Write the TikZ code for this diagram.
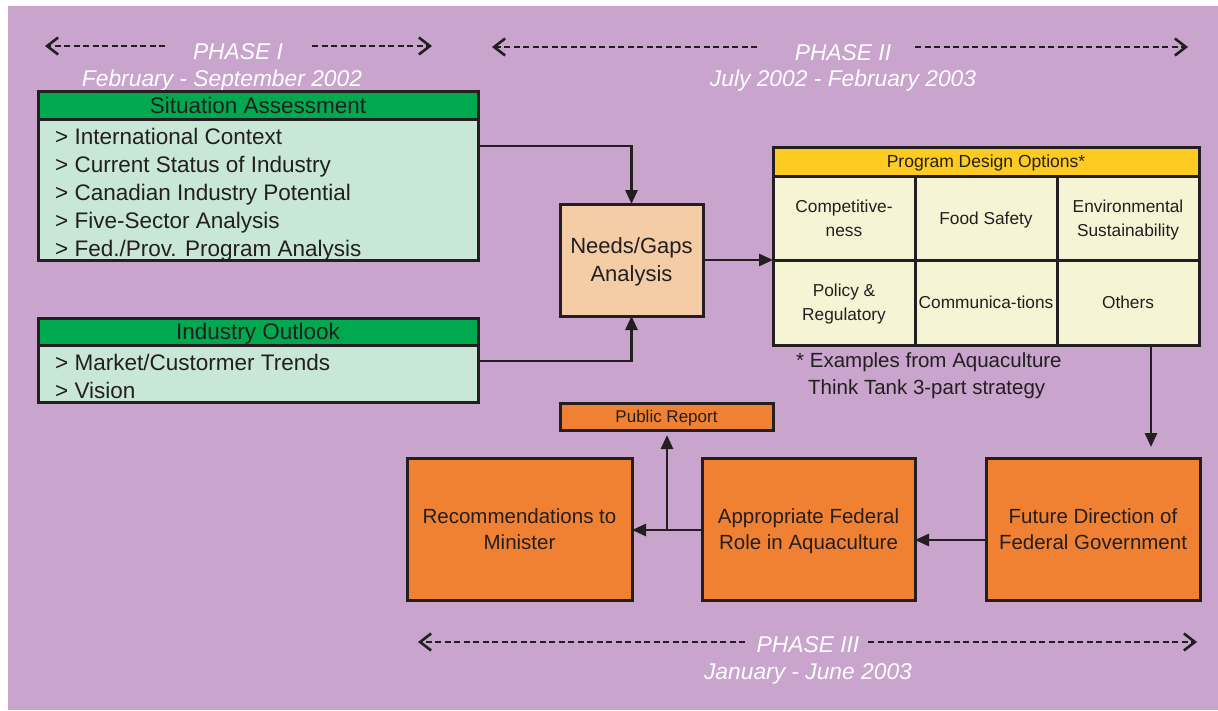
\documentclass[tikz,border=0pt]{standalone}
\usepackage{fontspec}
\setmainfont{Liberation Sans}
\usetikzlibrary{arrows.meta}

\definecolor{ink}{HTML}{231F20}
\definecolor{bgpurple}{HTML}{C9A4CD}
\definecolor{hgreen}{HTML}{00A94F}
\definecolor{lgreen}{HTML}{C9E7D6}
\definecolor{peach}{HTML}{F4CDA7}
\definecolor{orangebox}{HTML}{F08133}
\definecolor{yhead}{HTML}{FDCB22}
\definecolor{cream}{HTML}{F5F4D5}

\tikzset{
  box/.style={draw=ink, line width=3pt, inner sep=0pt, outer sep=0pt, anchor=north west,
              text=ink, align=center, text depth=0pt},
  hdr/.style={box, fill=hgreen, font=\fontsize{22.5}{26}\selectfont},
  listbody/.style={box, fill=lgreen},
  item/.style={anchor=base west, inner sep=0pt, text=ink, font=\fontsize{22.5}{26}\selectfont},
  cell/.style={box, fill=cream, font=\fontsize{17.3}{24}\selectfont},
  stepbox/.style={box, fill=orangebox, font=\fontsize{20.5}{26}\selectfont},
  conn/.style={draw=ink, line width=2.7pt, -{Triangle[length=14pt,width=12pt]}},
  phasearrow/.style={draw=ink, line width=2.6pt, dash pattern=on 6pt off 3.5pt,
              -{Straight Barb[length=11pt,width=17pt,line width=2.6pt]}},
  phasetext/.style={text=white, inner sep=0pt, font=\fontsize{22.8}{26}\selectfont\itshape},
}

\begin{document}
\begin{tikzpicture}[x=1pt, y=-1pt]
  % page and backdrop
  \useasboundingbox (0,0) rectangle (1218,710);
  \fill[white] (0,0) rectangle (1218,710);
  \fill[bgpurple] (8,6) rectangle (1218,710);

  % ---- phase banners ----
  \node[phasetext] (p1) at (238,52) {PHASE I};
  \node[phasetext] (p1d) at (222,81) {February - September 2002};
  \coordinate (p1a) at (165,46); \coordinate (p1b) at (45,46);
  \coordinate (p1c) at (312,46); \coordinate (p1e) at (432,46);
  \draw[phasearrow] (p1a) -- (p1b);
  \draw[phasearrow] (p1c) -- (p1e);

  \node[phasetext] (p2) at (843,53) {PHASE II};
  \node[phasetext] (p2d) at (843,81) {July 2002 - February 2003};
  \coordinate (p2a) at (757,47); \coordinate (p2b) at (492,47);
  \coordinate (p2c) at (915,47); \coordinate (p2e) at (1188,47);
  \draw[phasearrow] (p2a) -- (p2b);
  \draw[phasearrow] (p2c) -- (p2e);

  \node[phasetext] (p3) at (808,645) {PHASE III};
  \node[phasetext] (p3d) at (808,674) {January - June 2003};
  \coordinate (p3a) at (745,642); \coordinate (p3b) at (418,642);
  \coordinate (p3c) at (868,642); \coordinate (p3e) at (1197,642);
  \draw[phasearrow] (p3a) -- (p3b);
  \draw[phasearrow] (p3c) -- (p3e);

  % ---- situation assessment ----
  \node[listbody, minimum width=440pt, minimum height=141pt] (sa) at (38,119) {};
  \node[hdr, minimum width=440pt, minimum height=28pt] (sah) at (38,91) {Situation Assessment};
  \node[item] (sa1) at (55,144) {> International Context};
  \node[item] (sa2) at (55,172) {> Current Status of Industry};
  \node[item] (sa3) at (55,200) {> Canadian Industry Potential};
  \node[item] (sa4) at (55,228) {> Five-Sector Analysis};
  \node[item] (sa5) at (55,256) {> Fed./Prov. Program Analysis};

  % ---- industry outlook ----
  \node[listbody, minimum width=440pt, minimum height=57pt] (io) at (38,345) {};
  \node[hdr, minimum width=440pt, minimum height=27pt] (ioh) at (38,318) {Industry Outlook};
  \node[item] (io1) at (55,370) {> Market/Custormer Trends};
  \node[item] (io2) at (55,398) {> Vision};

  % ---- needs / gaps ----
  \node[box, fill=peach, minimum width=143pt, minimum height=112pt,
        font=\fontsize{22}{28}\selectfont] (needs) at (560,204) {Needs/Gaps\\Analysis};

  % ---- program design options grid ----
  \node[box, fill=yhead, minimum width=426pt, minimum height=29pt,
        font=\fontsize{17.5}{20}\selectfont] (pdo) at (773,147) {Program Design Options*};
  \node[cell, minimum width=142pt, minimum height=84pt] (c11) at (773,176) {Competitive-\\ness};
  \node[cell, minimum width=142pt, minimum height=84pt] (c12) at (915,176) {Food Safety};
  \node[cell, minimum width=142pt, minimum height=84pt] (c13) at (1057,176) {Environmental\\Sustainability};
  \node[cell, minimum width=142pt, minimum height=85pt] (c21) at (773,260) {Policy \&\\Regulatory};
  \node[cell, minimum width=142pt, minimum height=85pt] (c22) at (915,260) {Communica-tions};
  \node[cell, minimum width=142pt, minimum height=85pt] (c23) at (1057,260) {Others};
  \node[anchor=north west, inner sep=0pt, text=ink, align=left,
        font=\fontsize{20.5}{27}\selectfont] (note) at (796,352)
        {* Examples from Aquaculture\\\hspace*{12pt}Think Tank 3-part strategy};

  % ---- phase III boxes ----
  \node[stepbox, minimum width=213pt, minimum height=27pt,
        font=\fontsize{17}{20}\selectfont] (pub) at (560,403) {Public Report};
  \node[stepbox, minimum width=225pt, minimum height=142pt] (rec) at (407,458) {Recommendations to\\Minister};
  \node[stepbox, minimum width=213pt, minimum height=142pt] (app) at (702,458) {Appropriate Federal\\Role in Aquaculture};
  \node[stepbox, minimum width=214pt, minimum height=142pt] (fut) at (986,458) {Future Direction of\\Federal Government};

  % ---- connectors ----
  \draw[conn] ([yshift=-27pt]sa.north east) -| (needs.north);
  \draw[conn] ([yshift=-16pt]io.north east) -| (needs.south);
  \draw[conn] (needs.east) -- (needs.east -| c21.west);
  \draw[conn, shorten >=11pt] ([xshift=-48pt]c23.south east) -- ([xshift=-48pt]fut.north east -| c23.south east);
  \draw[conn] ([yshift=-82pt]fut.north west) -- ([yshift=-82pt]app.north east);
  \draw[conn] ([yshift=-72pt]app.north west) -- ([yshift=-72pt]rec.north east);
  \coordinate (branch) at (667,530);
  \draw[conn, shorten >=5pt] (branch) -- (branch |- pub.south);
\end{tikzpicture}
\end{document}
